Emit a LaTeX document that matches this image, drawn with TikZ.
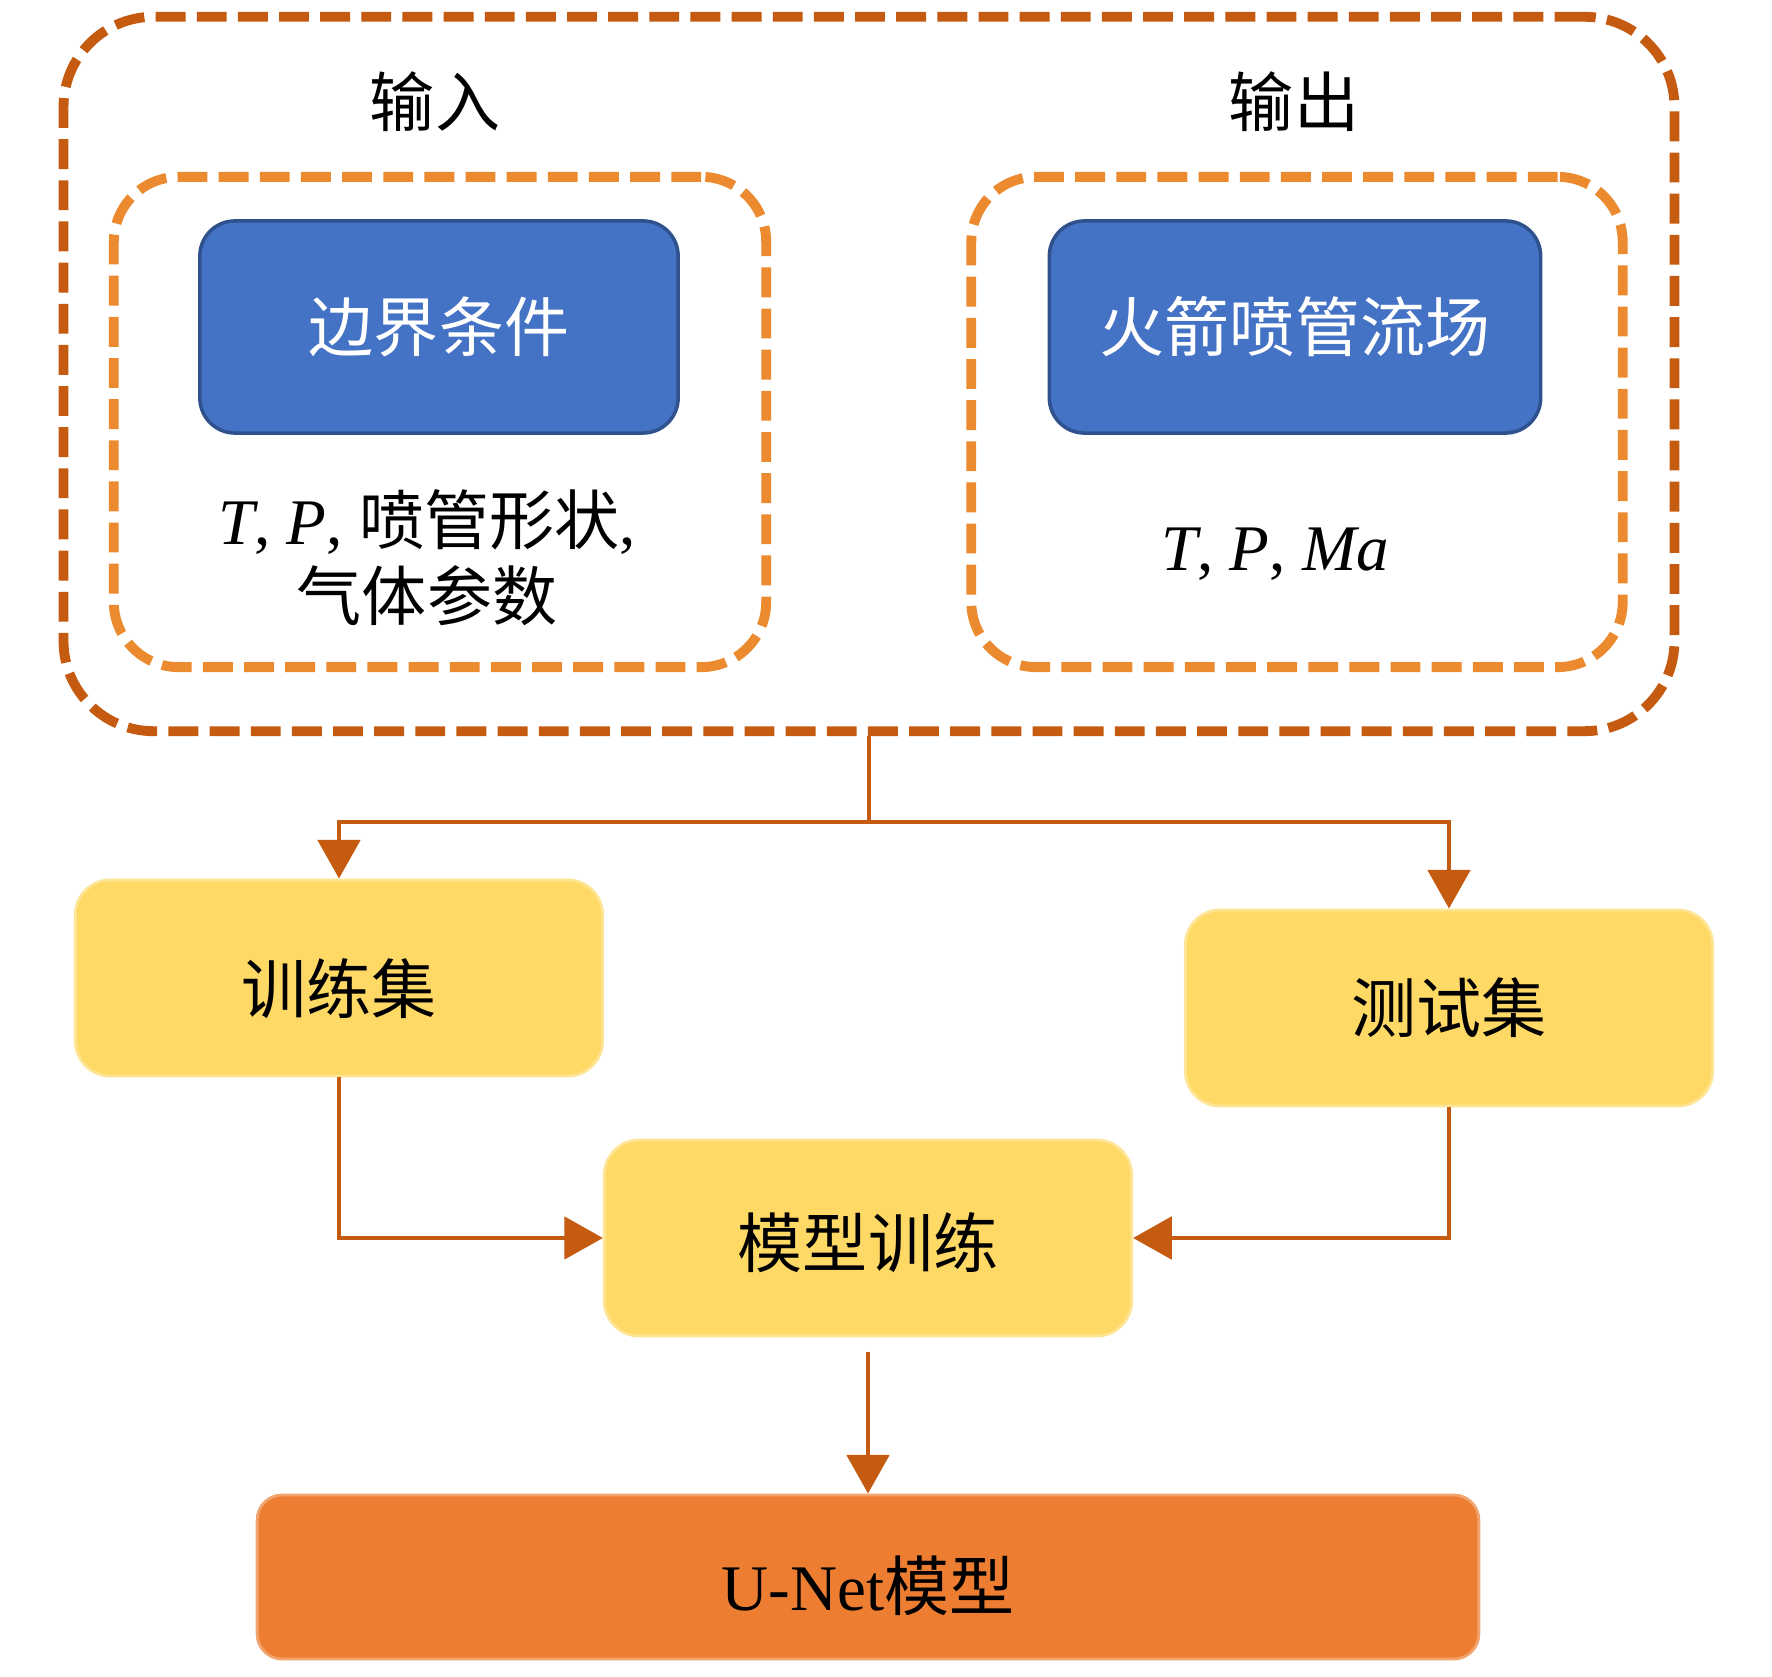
\documentclass[tikz,border=0pt]{standalone}
\usepackage{fontspec}
\setmainfont{Liberation Serif}
\newfontfamily\cjk{Noto Sans CJK SC}
\usetikzlibrary{arrows.meta}
\definecolor{darkorange}{RGB}{197,90,17}
\definecolor{midorange}{RGB}{236,138,48}
\definecolor{boxblue}{RGB}{68,114,196}
\definecolor{edgeblue}{RGB}{47,82,143}
\definecolor{boxgold}{RGB}{255,217,102}
\definecolor{boxorange}{RGB}{237,125,49}
\begin{document}
\begin{tikzpicture}[x=0.01cm,y=-0.01cm,font=\fontsize{18.5}{21.6}\selectfont,
  outerframe/.style={draw=darkorange,line width=2.8pt,dash pattern=on 8.5pt off 3.2pt,rounded corners=0.9cm,inner sep=0pt},
  innerframe/.style={draw=midorange,line width=2.8pt,dash pattern=on 8.5pt off 3.2pt,rounded corners=0.65cm,inner sep=0pt},
  bluebox/.style={draw=edgeblue,line width=1pt,fill=boxblue,text=white,rounded corners=0.35cm,minimum height=2.12cm},
  goldbox/.style={fill=boxgold,draw=boxgold!70!white,line width=0.8pt,rounded corners=0.35cm,minimum height=1.96cm,minimum width=5.27cm,text depth=2pt},
  link/.style={draw=darkorange,line width=1.3pt,-{Triangle[length=11pt,width=12pt]}}]
\useasboundingbox (0,0) rectangle (1772,1677);

% frames
\node[outerframe,minimum width=16.10cm,minimum height=7.14cm] (outer) at (869,374) {};
\node[innerframe,minimum width=6.52cm,minimum height=4.90cm] (inL) at (440,422) {};
\node[innerframe,minimum width=6.51cm,minimum height=4.90cm] (inR) at (1297,422) {};
\node (inlabel) at (435,102) {\cjk 输入};
\node (outlabel) at (1294,102) {\cjk 输出};

% input / output
\node[bluebox,minimum width=4.78cm] (bc) at (439,327) {\cjk 边界条件};
\node[bluebox,minimum width=4.91cm] (flow) at (1295,327) {\cjk 火箭喷管流场};
\node[align=center] (bcvars) at (427,558) {\textit{T}, \textit{P}, {\cjk 喷管形状}, \\ {\cjk 气体参数}};
\node (flowvars) at (1275,554) {\textit{T}, \textit{P}, \textit{Ma}};

% data sets and model
\node[goldbox,text height=22pt] (train) at (339,978) {\cjk 训练集};
\node[goldbox,text height=16pt] (test) at (1449,1008) {\cjk 测试集};
\node[goldbox,text height=19pt] (model) at (868,1238) {\cjk 模型训练};
\node[fill=boxorange,draw=boxorange!70!white,line width=0.8pt,rounded corners=0.25cm,minimum width=12.21cm,minimum height=1.64cm,text height=21pt,text depth=2pt] (unet) at (868,1577) {U-Net{\cjk 模型}};

\coordinate (split) at (869,822);
\draw[link,-] (outer.south) -- (split);
\draw[link] (split) -| (train.north);
\draw[link] (split) -| (test.north);
\draw[link] (train.south) |- (model.west);
\draw[link] (test.south) |- (model.east);
\draw[link,shorten <=4pt] (model.south) -- (unet.north);
\end{tikzpicture}
\end{document}
